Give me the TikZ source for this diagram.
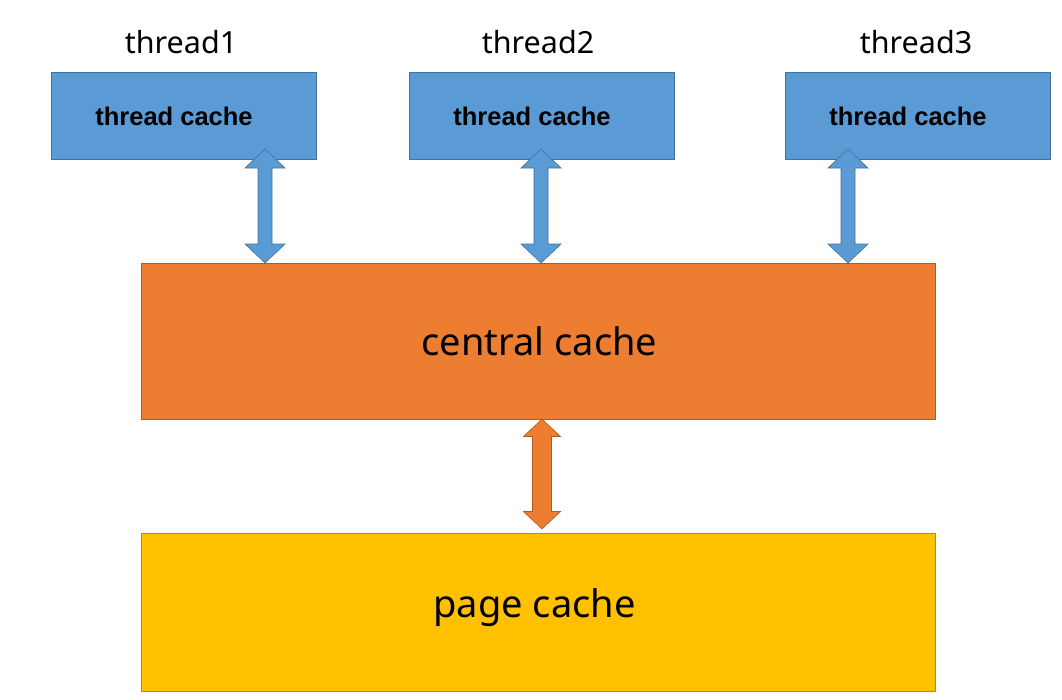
\documentclass[tikz,border=0pt]{standalone}
\usepackage{fontspec}
\setmainfont{Noto Sans}
\newfontfamily\boldarial{Liberation Sans}
\usetikzlibrary{calc}
\definecolor{tblue}{HTML}{5B9BD5}
\definecolor{tblueline}{HTML}{41719C}
\definecolor{torange}{HTML}{ED7D31}
\definecolor{torangeline}{HTML}{AE5A21}
\definecolor{tgold}{HTML}{FFC000}
\definecolor{tgoldline}{HTML}{BC8C00}
\tikzset{
  box/.style={draw, line width=0.7pt, inner sep=0pt, outer sep=0pt},
  tcbox/.style={box, fill=tblue, draw=tblueline, minimum width=265pt, minimum height=87pt},
  bigbox/.style={box, minimum width=794pt},
  tclabel/.style={font=\boldarial\bfseries\fontsize{25.5}{28}\selectfont, inner sep=0pt},
  thlabel/.style={font=\fontsize{30.5}{34}\selectfont, inner sep=0pt},
  biglabel/.style={font=\fontsize{38}{44}\selectfont, inner sep=0pt},
  bluearrow/.style={fill=tblue, draw=tblueline, line width=0.6pt, line join=miter},
  orangearrow/.style={fill=torange, draw=torangeline, line width=0.6pt, line join=miter}
}
% #1 style, #2 top tip, #3 bottom tip, #4 half shaft, #5 half head, #6 head length
\newcommand\fatdblarrow[6]{%
  \path[#1] let \p1=(#2), \p2=(#3) in
    (\x1,\y1) -- (\x1+#5,\y1-#6) -- (\x1+#4,\y1-#6) -- (\x2+#4,\y2+#6) -- (\x2+#5,\y2+#6)
    -- (\x2,\y2) -- (\x2-#5,\y2+#6) -- (\x2-#4,\y2+#6) -- (\x1-#4,\y1-#6) -- (\x1-#5,\y1-#6) -- cycle;
}
\begin{document}
\begin{tikzpicture}[x=1pt,y=-1pt]
\useasboundingbox (0,0) rectangle (1062,699);
% boxes
\node[tcbox] (t1) at (183.5,115.5) {};
\node[tcbox] (t2) at (542,115.5) {};
\node[tcbox] (t3) at (917.5,115.5) {};
\node[bigbox, fill=torange, draw=torangeline, minimum height=156pt] (central) at (538,341) {};
\node[bigbox, fill=tgold, draw=tgoldline, minimum height=158pt] (page) at (538,612) {};
% texts
\node[thlabel] (l1) at (181,42) {thread1};
\node[thlabel] (l2) at (538,42) {thread2};
\node[thlabel] (l3) at (916,42) {thread3};
\node[tclabel] (c1) at (174,116) {thread cache};
\node[tclabel] (c2) at (532,116) {thread cache};
\node[tclabel] (c3) at (908,116) {thread cache};
\node[biglabel] (ct) at (539.5,341) {central cache};
\node[biglabel] (pt) at (534.5,608) {page cache};
% arrows
\coordinate (a1t) at (265,149);
\coordinate (a2t) at (541,149);
\coordinate (a3t) at (848,149);
\coordinate (a4t) at (542,419);
\coordinate (a4b) at (542,529);
\fatdblarrow{bluearrow}{a1t}{a1t |- central.north}{7pt}{20pt}{19pt}
\fatdblarrow{bluearrow}{a2t}{a2t |- central.north}{7pt}{20pt}{19pt}
\fatdblarrow{bluearrow}{a3t}{a3t |- central.north}{7pt}{20pt}{19pt}
\fatdblarrow{orangearrow}{a4t}{a4b}{9.5pt}{18.5pt}{17.5pt}
\end{tikzpicture}
\end{document}
